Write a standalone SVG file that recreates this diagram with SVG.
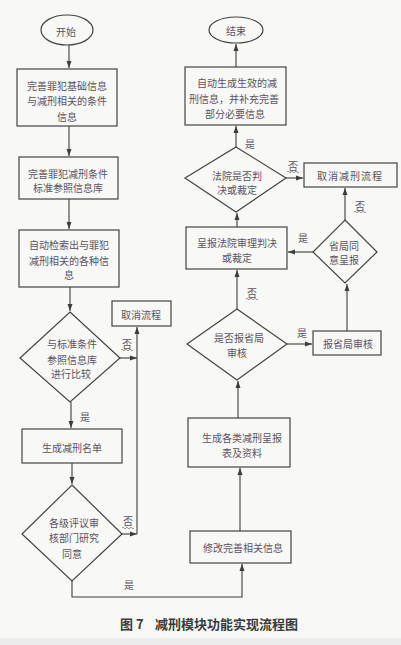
<svg xmlns="http://www.w3.org/2000/svg" width="401" height="645" viewBox="0 0 401 645">
<style>
.n{fill:none;stroke:#444;stroke-width:1.2}
.t{font-family:"Noto Sans CJK SC","Noto Sans",sans-serif;font-size:10px;fill:#5a5262;text-anchor:middle;dominant-baseline:central}
.c{fill:none;stroke:#3d3d3d;stroke-width:1.1}
.w{fill:none;stroke:#6a6a5a;stroke-width:0.7}
.cap{font-family:"Noto Sans CJK SC","Noto Sans",sans-serif;font-size:13px;font-weight:bold;fill:#3a3a3a;dominant-baseline:central}
</style>
<defs>
<marker id="a" markerUnits="userSpaceOnUse" markerWidth="8" markerHeight="6" refX="7" refY="3" orient="auto">
<path d="M0,0.5 L7,3 L0,5.5 Z" fill="#3d3d3d"/>
</marker>
<path id="wave" d="M0,0 q1,-1.5 2,0 t2,0 t2,0 t2,0 t2,0 t2,0" class="w"/>
</defs>
<rect width="401" height="645" fill="#f8f8f6"/>
<rect y="638" width="401" height="7" fill="#ececec"/>

<g id="connectors">
<path class="c" d="M69,45 V68" marker-end="url(#a)"/>
<path class="c" d="M69,126 V156" marker-end="url(#a)"/>
<path class="c" d="M69,199 V229" marker-end="url(#a)"/>
<path class="c" d="M70,287 V311" marker-end="url(#a)"/>
<path class="c" d="M71,402 V428" marker-end="url(#a)"/>
<path class="c" d="M72,463 V484" marker-end="url(#a)"/>
<path class="c" d="M120,358 H137" marker-end="url(#a)"/>
<path class="c" d="M122,534 H137" marker-end="url(#a)"/>
<path class="c" d="M137,534 V327" marker-end="url(#a)"/>
<path class="c" d="M72,581 V597 H242 V564" marker-end="url(#a)"/>
<path class="c" d="M240,531 V468" marker-end="url(#a)"/>
<path class="c" d="M238,418 V381" marker-end="url(#a)"/>
<path class="c" d="M287,344 H312" marker-end="url(#a)"/>
<path class="c" d="M347,331 V284" marker-end="url(#a)"/>
<path class="c" d="M313,252 H288" marker-end="url(#a)"/>
<path class="c" d="M345,220 V188" marker-end="url(#a)"/>
<path class="c" d="M237,309 V270" marker-end="url(#a)"/>
<path class="c" d="M237,227 V213" marker-end="url(#a)"/>
<path class="c" d="M286,178 H303" marker-end="url(#a)"/>
<path class="c" d="M236,147 V126" marker-end="url(#a)"/>
<path class="c" d="M236,67 V44" marker-end="url(#a)"/>
<text class="t" x="85" y="416">是</text>
<text class="t" x="127" y="343">否</text>
<use href="#wave" x="121" y="350"/>
<text class="t" x="128" y="520">否</text>
<use href="#wave" x="122" y="528"/>
<text class="t" x="129" y="584">是</text>
<text class="t" x="302" y="332">是</text>
<text class="t" x="303" y="237">是</text>
<text class="t" x="360" y="205">否</text>
<use href="#wave" x="354" y="212"/>
<text class="t" x="252" y="292">否</text>
<use href="#wave" x="246" y="299"/>
<text class="t" x="293" y="165">否</text>
<use href="#wave" x="287" y="172"/>
<text class="t" x="250" y="143">是</text>
</g>

<g id="start"><ellipse class="n" cx="67" cy="30" rx="26" ry="15"/><text class="t" x="66" y="31">开始</text></g>
<g id="box1"><rect class="n" x="17" y="69" width="100" height="57"/>
<text class="t" x="67" y="85">完善罪犯基础信息</text><text class="t" x="67" y="100">与减刑相关的条件</text><text class="t" x="67" y="116">信息</text></g>
<g id="box2"><rect class="n" x="19" y="157" width="99" height="42"/>
<text class="t" x="68" y="173">完善罪犯减刑条件</text><text class="t" x="68" y="187">标准参照信息库</text></g>
<g id="box3"><rect class="n" x="19" y="230" width="100" height="57"/>
<text class="t" x="69" y="244">自动检索出与罪犯</text><text class="t" x="69" y="260">减刑相关的各种信</text><text class="t" x="69" y="274">息</text></g>
<g id="dec1"><polygon class="n" points="70,312 120,358 70,402 20,358"/>
<text class="t" x="72" y="343">与标准条件</text><text class="t" x="72" y="359">参照信息库</text><text class="t" x="71" y="373">进行比较</text></g>
<g id="cancel1"><rect class="n" x="112" y="301" width="59" height="25"/><text class="t" x="141" y="314">取消流程</text></g>
<g id="box4"><rect class="n" x="22" y="429" width="100" height="34"/><text class="t" x="72" y="447">生成减刑名单</text></g>
<g id="dec2"><polygon class="n" points="72,485 122,534 72,581 22,534"/>
<text class="t" x="74" y="522">各级评议审</text><text class="t" x="74" y="537">核部门研究</text><text class="t" x="72" y="553">同意</text></g>
<g id="modify"><rect class="n" x="190" y="531" width="101" height="32"/><text class="t" x="243" y="547">修改完善相关信息</text></g>
<g id="report"><rect class="n" x="188" y="418" width="102" height="49"/>
<text class="t" x="242" y="437">生成各类减刑呈报</text><text class="t" x="242" y="452">表及资料</text></g>
<g id="dec3"><polygon class="n" points="237,309 287,344 237,380 187,344"/>
<text class="t" x="239" y="337">是否报省局</text><text class="t" x="237" y="352">审核</text></g>
<g id="province"><rect class="n" x="313" y="331" width="68" height="24"/><text class="t" x="348" y="343">报省局审核</text></g>
<g id="dec4"><polygon class="n" points="345,220 377,252 345,283 313,252"/>
<text class="t" x="344" y="245">省局同</text><text class="t" x="344" y="259">意呈报</text></g>
<g id="court"><rect class="n" x="186" y="227" width="101" height="42"/>
<text class="t" x="237" y="242">呈报法院审理判决</text><text class="t" x="237" y="257">或裁定</text></g>
<g id="dec5"><polygon class="n" points="236,147 286,178 236,212 185,178"/>
<text class="t" x="237" y="175">法院是否判</text><text class="t" x="237" y="189">决或裁定</text></g>
<g id="cancel2"><rect class="n" x="304" y="163" width="93" height="24"/><text class="t" x="350" y="175" letter-spacing="1">取消减刑流程</text></g>
<g id="gen"><rect class="n" x="185" y="67" width="101" height="58"/>
<text class="t" x="237" y="82">自动生成生效的减</text><text class="t" x="234" y="98">刑信息，并补充完善</text><text class="t" x="235" y="113">部分必要信息</text></g>
<g id="end"><ellipse class="n" cx="236" cy="30" rx="27" ry="13"/><text class="t" x="236" y="30">结束</text></g>

<text class="cap" y="623"><tspan x="120">图 7</tspan><tspan x="155">减刑模块功能实现流程图</tspan></text>
</svg>
